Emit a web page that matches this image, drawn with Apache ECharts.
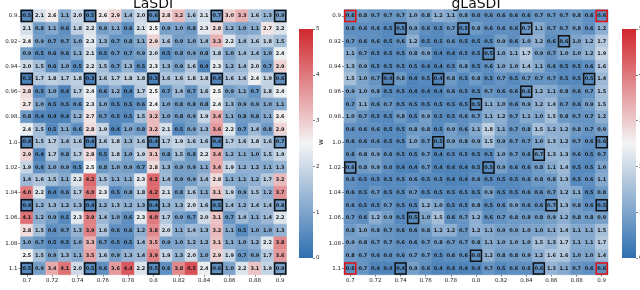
<!DOCTYPE html>
<html><head><meta charset="utf-8">
<script src="https://cdn.jsdelivr.net/npm/echarts@6/dist/echarts.min.js"></script>
<style>html,body{margin:0;padding:0;background:#fff}#c{width:640px;height:290px}</style>
</head><body><div id="c"></div><script>
const aLabels = ['0.7','0.71','0.72','0.73','0.74','0.75','0.76','0.77','0.78','0.79','0.8','0.81','0.82','0.83','0.84','0.85','0.86','0.87','0.88','0.89','0.9'];
const wLabels = ['0.9','0.91','0.92','0.93','0.94','0.95','0.96','0.97','0.98','0.99','1.0','1.01','1.02','1.03','1.04','1.05','1.06','1.07','1.08','1.09','1.1'];
const cbTicks = [0,1,2,3,4,5];

// rows: w from 0.9 (top) to 1.1 (bottom); columns: a from 0.7 to 0.9
const lasdiErr = [
 [0.5,2.1,2.6,1.1,2.0,0.5,2.6,2.9,1.4,2.0,0.6,2.8,3.2,1.6,2.1,0.7,3.0,3.3,1.6,1.3,0.9],
 [2.1,0.8,1.1,0.6,1.8,2.2,0.9,1.1,0.6,2.1,2.5,0.9,1.0,0.8,2.3,2.8,1.2,1.0,1.1,2.7,2.2],
 [2.4,0.9,0.7,0.7,1.0,2.3,1.3,0.7,0.8,1.1,2.9,1.6,0.9,1.0,1.4,3.3,2.2,1.4,1.6,1.8,1.5],
 [0.9,0.5,0.6,0.6,1.1,2.1,0.5,0.7,0.7,0.9,2.0,0.5,0.8,0.9,0.8,1.8,1.0,1.4,1.4,1.0,2.4],
 [2.0,1.5,0.6,1.0,0.5,2.2,1.5,0.7,1.3,0.5,2.3,1.3,0.9,1.6,0.4,2.3,1.2,1.4,2.0,0.7,2.9],
 [0.3,1.7,1.8,1.7,1.8,0.3,1.6,1.7,1.8,1.8,0.3,1.6,1.6,1.8,1.8,0.4,1.6,1.6,2.4,1.9,0.6],
 [2.8,0.5,1.0,0.4,1.7,2.4,0.6,1.2,0.4,1.7,2.5,0.7,1.4,0.7,1.6,2.5,0.9,1.1,0.7,1.8,2.4],
 [2.7,1.0,0.5,0.5,0.6,2.3,1.0,0.5,0.5,0.6,2.4,1.0,0.8,0.8,0.8,2.4,1.3,0.9,0.9,1.0,1.1],
 [0.8,0.4,0.4,0.4,1.2,2.7,0.7,0.5,0.5,1.5,3.2,1.0,0.8,0.9,1.9,3.4,1.1,0.8,0.8,1.1,2.6],
 [2.4,1.5,0.5,1.1,0.6,2.8,1.9,0.4,1.0,0.8,3.2,2.1,0.5,0.9,1.3,3.6,2.2,0.7,1.4,0.8,2.9],
 [0.4,1.5,1.7,1.4,1.6,0.4,1.6,1.8,1.3,1.6,0.4,1.7,1.9,1.6,1.6,0.4,1.7,1.6,1.8,1.6,0.7],
 [2.9,0.4,1.7,0.8,1.7,2.8,0.5,1.8,1.0,1.9,3.1,0.8,1.5,0.8,2.2,3.4,1.2,1.1,1.0,1.5,1.9],
 [1.9,0.6,1.0,0.9,0.5,2.5,0.8,1.0,0.9,0.7,2.8,1.3,0.9,0.9,1.1,3.4,1.9,1.2,1.2,1.1,1.3],
 [1.4,1.6,1.5,1.1,2.2,4.2,1.5,1.1,1.1,2.3,4.2,1.4,0.9,0.9,1.4,2.8,1.1,1.1,1.2,1.7,3.2],
 [4.0,2.2,0.4,0.6,1.7,4.0,2.3,0.5,0.8,1.8,4.2,2.1,0.8,1.6,1.1,3.1,1.9,0.9,1.5,1.2,3.7],
 [0.4,1.2,1.3,1.2,1.3,0.4,1.2,1.3,1.2,1.3,0.4,1.3,1.3,2.0,1.6,0.5,1.4,1.2,1.4,1.4,0.8],
 [4.1,1.2,0.9,0.5,2.3,3.9,1.4,1.0,0.6,2.3,4.0,1.7,0.9,0.7,2.0,3.1,0.7,1.4,1.1,1.4,2.2],
 [2.8,1.5,0.6,0.7,1.3,3.9,1.6,0.6,0.6,1.2,3.8,2.0,1.1,1.4,1.3,3.2,1.1,0.5,1.0,1.0,1.3],
 [1.0,0.7,0.5,0.5,1.0,3.3,0.7,0.5,0.5,1.4,3.5,0.9,1.0,1.2,1.2,3.1,1.1,1.0,1.2,2.2,3.8],
 [2.5,1.5,0.9,1.3,1.1,3.5,1.6,0.9,1.3,1.4,3.9,1.9,1.3,2.0,1.0,2.9,1.9,0.7,0.9,1.7,3.6],
 [0.5,0.9,3.4,4.1,2.0,0.5,0.6,3.6,4.4,2.2,0.5,0.6,3.8,4.5,2.4,0.6,1.0,2.2,3.1,1.9,0.9]
];
const glasdiErr = [
 [0.6,0.8,0.7,0.7,0.7,1.0,0.8,1.2,1.1,0.8,0.6,0.6,0.6,0.6,0.6,0.7,0.7,0.7,0.8,0.6,0.6],
 [0.6,0.6,0.6,0.5,0.5,0.9,0.6,0.5,0.7,0.5,0.8,0.6,0.6,0.6,0.7,1.1,0.7,0.7,0.8,0.6,1.2],
 [0.7,0.6,0.6,0.5,0.6,1.2,0.5,0.5,0.6,0.5,0.5,0.5,0.9,0.6,1.0,1.2,0.6,0.6,1.0,1.2,1.7],
 [1.1,0.7,0.5,0.5,0.5,0.8,0.9,0.4,0.4,0.5,0.5,0.5,1.0,1.1,1.7,0.9,0.7,1.0,1.0,1.2,1.9],
 [1.3,0.9,0.5,0.5,0.5,0.5,0.4,0.4,0.5,0.8,0.5,0.6,1.0,1.0,1.4,1.1,0.6,0.5,0.5,0.6,1.6],
 [1.5,1.0,0.7,0.4,0.8,0.4,0.5,0.4,0.8,0.5,0.8,0.5,0.7,0.5,0.7,0.7,0.7,0.5,0.5,0.5,1.4],
 [0.9,1.0,0.8,0.5,0.5,0.4,0.4,0.4,0.6,0.5,0.5,0.7,0.6,0.6,0.6,1.2,1.1,0.8,0.6,0.7,1.5],
 [0.7,1.1,0.6,0.7,0.5,0.5,0.5,0.5,0.5,0.5,0.5,1.1,1.0,0.6,0.9,1.2,1.4,0.7,0.6,0.9,1.5],
 [1.0,0.7,0.5,0.5,0.8,0.5,0.9,0.5,0.5,0.6,0.7,1.1,1.2,0.7,1.1,1.0,1.5,0.8,0.7,0.7,1.2],
 [0.6,0.6,0.6,0.5,0.5,0.8,0.8,0.5,0.9,0.6,1.1,1.8,1.1,0.7,0.8,1.5,1.2,1.2,0.8,0.7,0.9],
 [0.6,0.6,0.6,0.5,0.5,1.0,0.7,0.5,0.9,0.8,0.9,1.5,0.9,0.7,0.7,1.0,1.3,1.2,0.7,0.6,0.6],
 [0.6,0.8,0.9,0.6,0.5,0.5,0.7,0.4,0.5,0.5,0.5,0.5,1.0,0.7,0.6,0.7,1.3,1.3,0.6,0.5,0.7],
 [0.6,0.8,0.9,0.6,0.4,0.4,0.7,0.4,0.4,0.4,0.5,0.5,0.9,0.6,0.6,0.8,1.1,1.4,0.5,0.5,1.0],
 [0.6,0.5,0.5,0.5,0.5,0.6,0.5,0.5,0.4,0.4,0.6,0.5,0.5,0.5,0.6,0.8,0.8,1.3,0.5,0.6,1.1],
 [0.6,0.5,0.7,0.5,0.5,0.7,0.5,0.5,0.5,0.5,0.5,0.9,0.5,0.5,0.6,0.6,0.7,1.2,1.1,0.5,0.8],
 [0.6,0.5,0.5,0.7,0.5,0.5,1.2,1.0,0.5,0.5,0.8,0.5,0.6,0.9,0.6,0.6,0.7,1.3,0.8,0.6,0.5],
 [0.7,0.6,1.2,0.9,0.5,0.5,1.0,1.5,0.6,0.7,1.2,0.6,0.7,0.8,0.8,0.8,0.9,1.2,0.8,0.8,0.9],
 [0.8,1.0,0.8,0.7,0.6,0.6,0.8,1.2,1.2,0.7,1.2,1.1,0.9,0.9,1.0,1.0,1.1,1.4,1.1,1.1,1.5],
 [0.9,0.8,0.7,0.7,0.6,0.6,0.7,0.8,0.7,0.7,0.8,1.1,1.0,1.0,1.0,1.5,1.3,1.7,1.1,1.1,1.7],
 [0.8,0.7,0.6,0.6,0.6,0.7,0.7,0.5,0.6,0.6,0.6,1.2,0.8,0.8,0.9,1.2,1.6,1.6,1.0,1.0,1.4],
 [0.6,0.7,0.4,0.4,0.4,0.9,0.6,0.4,0.4,0.4,0.4,0.7,0.5,0.6,0.6,0.6,1.3,1.1,0.7,0.6,0.6]
];
// training points as [aIndex, wIndex]
const lasdiTrain = [];
[0,5,10,15,20].forEach(r => [0,5,10,15,20].forEach(c => lasdiTrain.push([c, r])));
const glasdiTrain = [[4,1],[9,1],[14,1],[17,2],[11,3],[3,5],[7,5],[19,5],[14,6],[10,7],[7,10],[20,10],[15,11],[0,12],[11,12],[16,15],[20,15],[5,16],[10,19],[4,20],[15,20]];
const glasdiInit = [[0,0],[20,0],[0,20],[20,20]];

function toCells(m) {
  const out = [];
  m.forEach((row, r) => row.forEach((v, c) => out.push([c, r, v])));
  return out;
}

const FONT = 'DejaVu Sans';
const lowC = '#2f6fb0', midC = '#f4f4f4', highC = '#d0272e';
const G = [
  {left: 20.5, top: 9.7, width: 266, height: 265, outerBoundsMode: 'none'},
  {left: 344, top: 9.7, width: 264, height: 265, outerBoundsMode: 'none'},
  {left: 299, top: 29, width: 14, height: 229, outerBoundsMode: 'none'},
  {left: 622, top: 29, width: 14, height: 229, outerBoundsMode: 'none'}
];

function heatX(gi) {
  return {type: 'category', gridIndex: gi, data: aLabels, name: 'a', nameLocation: 'middle', nameGap: 12,
    nameTextStyle: {fontSize: 7, fontFamily: FONT, color: '#222'},
    axisLine: {show: false}, axisTick: {show: true, interval: 1, alignWithLabel: true, length: 2, lineStyle: {color: '#333', width: 0.6}},
    axisLabel: {interval: 1, fontSize: 5.5, fontFamily: FONT, color: '#222', margin: 3}, splitLine: {show: false}};
}
function heatY(gi) {
  return {type: 'category', gridIndex: gi, data: wLabels, inverse: true, name: 'w', nameLocation: 'middle', nameGap: 13,
    nameTextStyle: {fontSize: 7, fontFamily: FONT, color: '#222'},
    axisLine: {show: false}, axisTick: {show: true, interval: 1, alignWithLabel: true, length: 2, lineStyle: {color: '#333', width: 0.6}},
    axisLabel: {interval: 1, fontSize: 5.5, fontFamily: FONT, color: '#222', margin: 3}, splitLine: {show: false}};
}
function cbX(gi) { return {type: 'category', gridIndex: gi, data: ['cb'], show: false}; }
function cbY(gi) {
  return {type: 'value', gridIndex: gi, min: cbTicks[0], max: cbTicks[cbTicks.length-1], interval: 1, position: 'right',
    axisLine: {show: false}, axisTick: {show: true, length: 2, lineStyle: {color: '#333', width: 0.6}},
    axisLabel: {fontSize: 5.5, fontFamily: FONT, color: '#222', margin: 3}, splitLine: {show: false}};
}
function heatSeries(name, gi, m) {
  return {name, type: 'custom', xAxisIndex: gi, yAxisIndex: gi, data: toCells(m), silent: true,
    encode: {x: 0, y: 1},
    renderItem: (params, api) => {
      const p = api.coord([api.value(0), api.value(1)]);
      const s = api.size([1, 1]);
      const col = api.visual('color');
      return {type: 'group', children: [
        {type: 'rect', shape: {x: p[0] - s[0]/2, y: p[1] - s[1]/2, width: s[0], height: s[1]},
          style: {fill: col, stroke: col, lineWidth: 0.6}},
        {type: 'text', x: p[0], y: p[1], style: {text: api.value(2).toFixed(1), align: 'center', verticalAlign: 'middle',
          fontSize: 5, fontFamily: FONT, fontWeight: 'bold', fill: '#1a1a1a'}}
      ]};
    }};
}
function boxSeries(gi, pts, color) {
  return {type: 'custom', xAxisIndex: gi, yAxisIndex: gi, data: pts, z: 5, silent: true,
    renderItem: (params, api) => {
      const p = api.coord([api.value(0), api.value(1)]);
      const s = api.size([1, 1]);
      return {type: 'rect', shape: {x: p[0] - s[0]/2 + 0.8, y: p[1] - s[1]/2 + 0.8, width: s[0] - 1.6, height: s[1] - 1.6},
        style: {fill: null, stroke: color, lineWidth: 1.5}};
    }};
}
function cbSeries(gi) {
  return {type: 'bar', xAxisIndex: gi, yAxisIndex: gi, data: [cbTicks[cbTicks.length-1]], barWidth: '100%', silent: true,
    itemStyle: {color: new echarts.graphic.LinearGradient(0, 0, 0, 1, [
      {offset: 0, color: highC}, {offset: 0.5, color: midC}, {offset: 1, color: lowC}])}};
}

const chart = echarts.init(document.getElementById('c'), null, {renderer: 'canvas'});
chart.setOption({
  animation: false,
  backgroundColor: '#fff',
  title: [
    {text: 'LaSDI', left: 153, top: -3, textAlign: 'center', padding: 0, textStyle: {fontSize: 14, fontWeight: 'normal', fontFamily: FONT, color: '#111'}},
    {text: 'gLaSDI', left: 476, top: -3, textAlign: 'center', padding: 0, textStyle: {fontSize: 14, fontWeight: 'normal', fontFamily: FONT, color: '#111'}}
  ],
  grid: G,
  xAxis: [heatX(0), heatX(1), cbX(2), cbX(3)],
  yAxis: [heatY(0), heatY(1), cbY(2), cbY(3)],
  visualMap: {type: 'continuous', show: false, min: 0, max: 5, dimension: 2, seriesIndex: [0, 1], inRange: {color: [lowC, midC, highC]}},
  series: [
    heatSeries('LaSDI', 0, lasdiErr),
    heatSeries('gLaSDI', 1, glasdiErr),
    boxSeries(0, lasdiTrain, '#111'),
    boxSeries(1, glasdiTrain, '#111'),
    boxSeries(1, glasdiInit, '#e01010'),
    cbSeries(2),
    cbSeries(3)
  ]
});
</script></body></html>
